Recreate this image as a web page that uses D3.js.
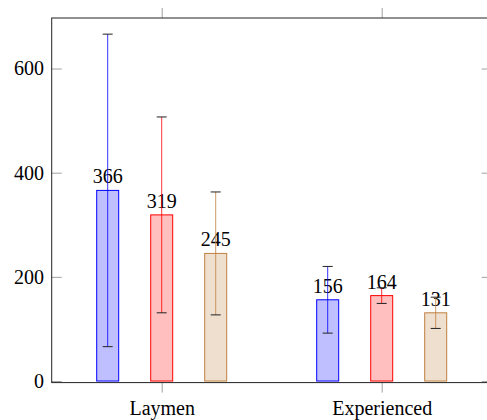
<!DOCTYPE html>
<html>
<head>
<meta charset="utf-8">
<script src="https://cdn.jsdelivr.net/npm/d3@7"></script>
<style>
  body { margin: 0; background: #fff; }
</style>
</head>
<body>
<div id="chart-area"></div>
<script>
// Data
const groups = ["Laymen", "Experienced"];
const blueValues = [366, 156];
const blueErrors = [300, 64];
const redValues = [319, 164];
const redErrors = [188, 15];
const tanValues = [245, 131];
const tanErrors = [118, 30];
const yTicks = [0, 200, 400, 600];

const series = [
    { values: blueValues, errors: blueErrors, stroke: "#0000ff", fill: "#bfbfff" },
    { values: redValues, errors: redErrors, stroke: "#ff0000", fill: "#ffbfbf" },
    { values: tanValues, errors: tanErrors, stroke: "#bf8040", fill: "#efdfcf" }
];

const width = 487, height = 420;
const plot = { left: 51.7, right: 491.7, top: 18, bottom: 382.6 };
const barWidth = 22, barGap = 54, capHalf = 5;
const font = "'Liberation Serif'";

const svg = d3.select("#chart-area").append("svg")
    .attr("width", width)
    .attr("height", height)
    .style("font-family", font);

// Scales
const x = d3.scalePoint()
    .domain(groups)
    .range([plot.left, plot.right])
    .padding(0.5);
const y = d3.scaleLinear()
    .domain([-3, 697])
    .range([plot.bottom, plot.top]);

// Axes (ticks only, box drawn separately)
const yLeft = svg.append("g")
    .attr("transform", "translate(" + plot.left + ",0)")
    .call(d3.axisLeft(y).tickValues(yTicks).tickSize(-10).tickPadding(7.7));
const yRight = svg.append("g")
    .attr("transform", "translate(" + plot.right + ",0)")
    .call(d3.axisRight(y).tickValues(yTicks).tickSize(-10).tickFormat(""));
const xBottom = svg.append("g")
    .attr("transform", "translate(0," + plot.bottom + ")")
    .call(d3.axisBottom(x).tickSize(10).tickPadding(8.7));
const xTop = svg.append("g")
    .attr("transform", "translate(0," + plot.top + ")")
    .call(d3.axisTop(x).tickSize(10).tickFormat(""));

[yLeft, yRight, xBottom, xTop].forEach((a) => {
    a.attr("font-family", null).attr("font-size", null);
    a.select(".domain").remove();
    a.selectAll(".tick line").attr("stroke", "#a0a0a0").attr("stroke-width", 1);
    a.selectAll(".tick text")
        .attr("fill", "#000")
        .style("font-family", font)
        .style("font-size", "20px");
});

// Box
svg.append("rect")
    .attr("x", plot.left)
    .attr("y", plot.top)
    .attr("width", plot.right - plot.left)
    .attr("height", plot.bottom - plot.top)
    .attr("fill", "none")
    .attr("stroke", "#222")
    .attr("stroke-width", 1);

// Bars
series.forEach((s, si) => {
    const off = (si - 1) * barGap;
    const g = svg.append("g");

    g.selectAll("rect")
        .data(groups)
        .enter().append("rect")
        .attr("x", (d) => x(d) + off - barWidth / 2)
        .attr("y", (d, i) => y(s.values[i]))
        .attr("width", barWidth)
        .attr("height", (d, i) => y(0) - y(s.values[i]))
        .attr("fill", s.fill)
        .attr("stroke", s.stroke)
        .attr("stroke-width", 1);

    // value labels
    g.selectAll(".val")
        .data(groups)
        .enter().append("text")
        .attr("class", "val")
        .attr("x", (d) => x(d) + off)
        .attr("y", (d, i) => y(s.values[i]) - 7)
        .attr("text-anchor", "middle")
        .style("font-family", font)
        .style("font-size", "20px")
        .attr("fill", "#000")
        .text((d, i) => s.values[i]);
});

// Error bars on top
series.forEach((s, si) => {
    const off = (si - 1) * barGap;
    const g = svg.append("g");
    groups.forEach((d, i) => {
        const cx = x(d) + off;
        const lo = y(s.values[i] - s.errors[i]);
        const hi = y(s.values[i] + s.errors[i]);
        g.append("line")
            .attr("x1", cx).attr("x2", cx)
            .attr("y1", lo).attr("y2", hi)
            .attr("stroke", s.stroke)
            .attr("stroke-opacity", 0.8)
            .attr("stroke-width", 1);
        [lo, hi].forEach((yy) => {
            g.append("line")
                .attr("x1", cx - capHalf).attr("x2", cx + capHalf)
                .attr("y1", yy).attr("y2", yy)
                .attr("stroke", "#222")
                .attr("stroke-width", 1);
        });
    });
});
</script>
</body>
</html>
